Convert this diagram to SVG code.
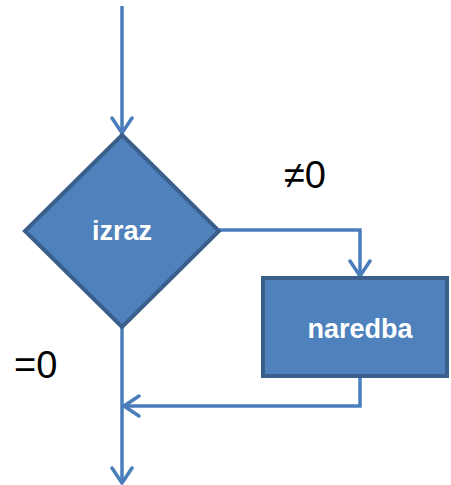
<svg xmlns="http://www.w3.org/2000/svg" width="451" height="485" viewBox="0 0 451 485">
  <style>
    .shape { fill: #4F81BD; stroke: #3A5F8B; stroke-width: 4; stroke-linejoin: miter; }
    .label { fill: #FFFFFF; font-family: "Liberation Sans", Arial, sans-serif; font-weight: bold; font-size: 27px; text-anchor: middle; }
    .cond { fill: #000000; font-family: "Liberation Sans", Arial, sans-serif; font-size: 38px; }
    .flow { fill: none; stroke: #4A7EBB; stroke-width: 3.5; }
  </style>
  <defs>
    <marker id="arrow" viewBox="0 0 24 24" refX="21" refY="12" markerWidth="24" markerHeight="24" markerUnits="userSpaceOnUse" orient="auto">
      <path d="M 6 2 L 21 12 L 6 22" fill="none" stroke="#4A7EBB" stroke-width="3.5" stroke-linecap="round" stroke-linejoin="round"/>
    </marker>
  </defs>

  <g id="connectors">
    <path class="flow" d="M 122 6 L 122 133" marker-end="url(#arrow)"/>
    <path class="flow" d="M 219 230 L 360 230 L 360 276" marker-end="url(#arrow)"/>
    <path class="flow" d="M 360 377 L 360 406 L 124 406" marker-end="url(#arrow)"/>
    <path class="flow" d="M 122 328 L 122 483" marker-end="url(#arrow)"/>
  </g>

  <g id="decision">
    <polygon class="shape" points="122,135 219,231 122,327 25,231"/>
    <text class="label" x="122" y="240">izraz</text>
  </g>

  <g id="statement">
    <rect class="shape" x="263" y="278" width="184" height="98"/>
    <text class="label" x="360" y="338">naredba</text>
  </g>

  <g id="conditions">
    <text class="cond" x="284" y="188">≠0</text>
    <text class="cond" x="14" y="378">=0</text>
  </g>
</svg>
